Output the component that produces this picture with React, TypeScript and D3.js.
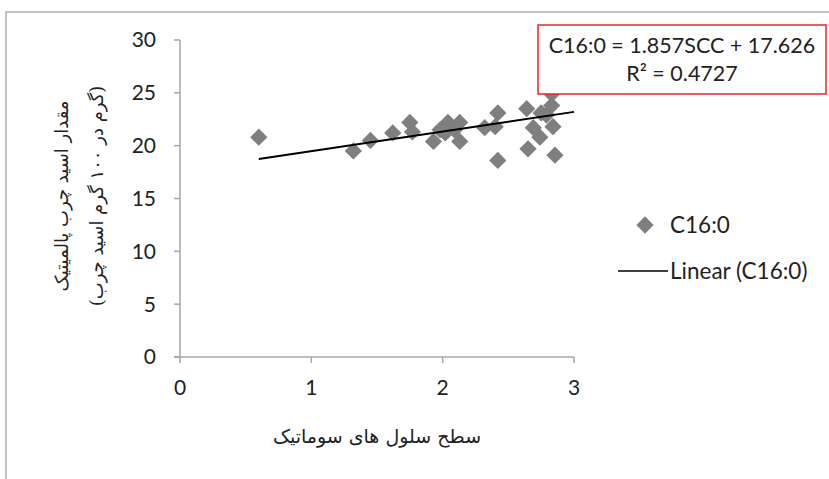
import React from "react";
import * as d3 from "d3";

const sccValues = [0.6, 1.32, 1.45, 1.62, 1.75, 1.77, 1.93, 1.98, 2.02, 2.04, 2.09, 2.13, 2.13, 2.32, 2.4, 2.42, 2.42, 2.64, 2.65, 2.69, 2.74, 2.75, 2.79, 2.83, 2.83, 2.84, 2.855];
const c16Values = [20.8, 19.5, 20.5, 21.2, 22.2, 21.3, 20.4, 21.5, 21.2, 22.2, 21.5, 22.2, 20.4, 21.7, 21.8, 23.1, 18.6, 23.5, 19.7, 21.7, 20.8, 23.1, 22.9, 24.9, 23.8, 21.8, 19.1];
const xTicks = [0, 1, 2, 3];
const yTicks = [0, 5, 10, 15, 20, 25, 30];
const slope = 1.857;
const intercept = 17.626;
const trendRange = [0.6, 3];
const equationLines = ["C16:0 = 1.857SCC + 17.626", "R² = 0.4727"];
const legendLabels = ["C16:0", "Linear (C16:0)"];
const yTitleLines = ["مقدار اسید چرب پالمیتیک", "(گرم در ۱۰۰ گرم اسید چرب)"];
const xTitle = "سطح سلول های سوماتیک";

export default function App() {
  const W = 829, H = 479;
  const x = d3.scaleLinear().domain([0, 3]).range([180, 574]);
  const y = d3.scaleLinear().domain([0, 30]).range([357, 40]);
  const axisColor = "#a6a6a6";
  const font = "Lato, 'Open Sans', sans-serif";
  const pFont = "'DejaVu Serif', 'DejaVu Sans', serif";
  const diamond = d3.symbol().type(d3.symbolDiamond2).size(190)();
  const line = d3.line<number>().x((d) => x(d)).y((d) => y(slope * d + intercept));
  return (
    <svg width={W} height={H} style={{ position: "absolute", left: 0, top: 0 }} xmlns="http://www.w3.org/2000/svg">
      <rect x={0} y={0} width={W} height={H} fill="#fff" />
      <path d={`M6,${H} V12 H${W}`} fill="none" stroke="#b0b0b0" strokeWidth={1.5} />
      {/* axes */}
      <line x1={x(0)} x2={x(0)} y1={y(30)} y2={y(0)} stroke={axisColor} strokeWidth={1.5} />
      <line x1={x(0) - 6} x2={x(3)} y1={y(0)} y2={y(0)} stroke={axisColor} strokeWidth={1.5} />
      {yTicks.map((t) => (
        <g key={"y" + t}>
          <line x1={x(0) - 6} x2={x(0)} y1={y(t)} y2={y(t)} stroke={axisColor} strokeWidth={1.5} />
          <text x={x(0) - 24} y={y(t)} dy="0.35em" textAnchor="end" fontFamily={font} fontSize={21} fill="#222">{t}</text>
        </g>
      ))}
      {xTicks.map((t) => (
        <g key={"x" + t}>
          <line x1={x(t)} x2={x(t)} y1={y(0)} y2={y(0) + 6} stroke={axisColor} strokeWidth={1.5} />
          <text x={x(t)} y={y(0) + 31} dy="0.35em" textAnchor="middle" fontFamily={font} fontSize={21} fill="#222">{t}</text>
        </g>
      ))}
      {/* points */}
      {sccValues.map((v, i) => (
        <path key={i} d={diamond} transform={`translate(${x(v)},${y(c16Values[i])})`} fill="#7f7f7f" />
      ))}
      {/* trendline */}
      <path d={line(trendRange) || ""} fill="none" stroke="#000" strokeWidth={2} />
      {/* equation box */}
      <rect x={538} y={25} width={288} height={69} fill="#fff" stroke="#e8262b" strokeWidth={1.5} />
      {equationLines.map((s, i) => (
        <text key={s} x={682} y={45 + i * 28} dy="0.35em" textAnchor="middle" fontFamily={font} fontSize={21.5} fill="#222">{s}</text>
      ))}
      {/* legend */}
      <path d={diamond} transform={`translate(645,225)`} fill="#7f7f7f" />
      <text x={670} y={225} dy="0.35em" fontFamily={font} fontSize={22.5} fill="#222">{legendLabels[0]}</text>
      <line x1={618} x2={668} y1={271} y2={271} stroke="#000" strokeWidth={1.5} />
      <text x={670} y={271} dy="0.35em" fontFamily={font} fontSize={22.5} fill="#222">{legendLabels[1]}</text>
      {/* titles */}
      {yTitleLines.map((s, i) => (
        <text key={s} transform={`translate(${62 + i * 35},196) rotate(-90)`} textAnchor="middle" dy="0.35em" fontFamily={pFont} fontSize={18} fill="#222" direction="rtl">{s}</text>
      ))}
      <text x={377} y={436} dy="0.35em" textAnchor="middle" fontFamily={pFont} fontSize={19} fill="#222" direction="rtl">{xTitle}</text>
    </svg>
  );
}
